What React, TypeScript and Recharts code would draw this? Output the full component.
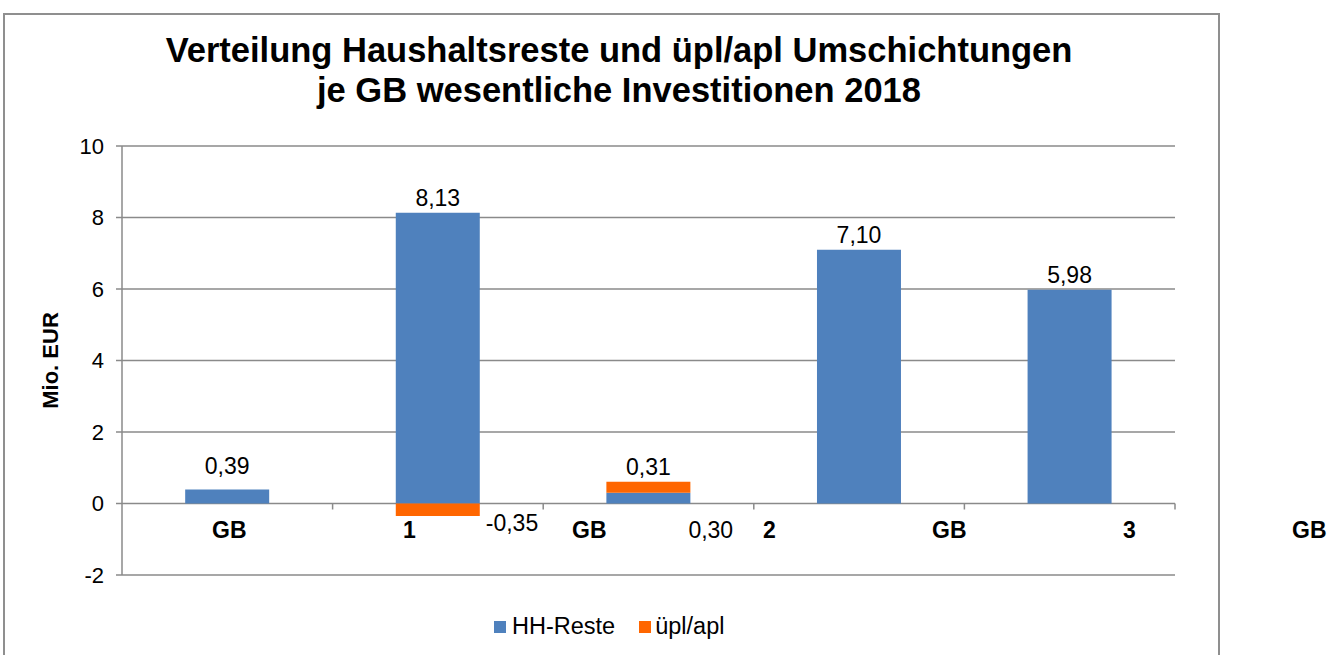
import { Bar, BarChart, CartesianGrid, Label, LabelList, Legend, XAxis, YAxis } from "recharts";

const categories = ["GB 1", "GB 2", "GB 3", "GB 4", "GB 5"];
const hhReste = [0.39, 8.13, 0.3, 7.1, 5.98];
const ueplApl: (number | null)[] = [null, -0.35, 0.31, null, null];
const axisTokens = ["GB", "1", "GB", "2", "GB", "3", "GB"];
const yTicks = [-2, 0, 2, 4, 6, 8, 10];

const data = categories.map((name, i) => ({ name, hh: hhReste[i], upl: ueplApl[i] }));

const FONT = '"Liberation Sans", Arial, sans-serif';
const GRID = "#8a8a8a";
const BLUE = "#4f81bd";
const ORANGE = "#ff6600";

const PLOT_TOP = 146;
const PLOT_BOTTOM = 575;
const PLOT_LEFT = 122;
const PLOT_RIGHT = 1175;
const ZERO_Y = PLOT_TOP + ((PLOT_BOTTOM - PLOT_TOP) * 10) / 12;
const BAND = (PLOT_RIGHT - PLOT_LEFT) / categories.length;
const TOKEN_STEP = 180;

const fmt = (v: number) => v.toFixed(2).replace(".", ",");

function XTick(props: any) {
  const { x, index } = props;
  return (
    <g>
      {index === 0 &&
        axisTokens.map((t, k) => (
          <text
            key={k}
            x={x + 2 + k * TOKEN_STEP}
            y={ZERO_Y + 34}
            textAnchor="middle"
            fontFamily={FONT}
            fontSize={23}
            fontWeight="bold"
            fill="#000"
          >
            {t}
          </text>
        ))}
      <line x1={x + BAND / 2} x2={x + BAND / 2} y1={ZERO_Y} y2={ZERO_Y + 6} stroke={GRID} strokeWidth={1.5} />
    </g>
  );
}

function HHLabel(props: any) {
  const { x, y, width, value, index } = props;
  if (value == null) return null;
  if (index === 2) {
    return (
      <text x={x + width - 2} y={ZERO_Y + 34} fontFamily={FONT} fontSize={23} fill="#000">
        {fmt(value)}
      </text>
    );
  }
  return (
    <text x={x + width / 2} y={y - (index === 0 ? 16 : 7)} textAnchor="middle" fontFamily={FONT} fontSize={23} fill="#000">
      {fmt(value)}
    </text>
  );
}

function UplLabel(props: any) {
  const { x, y, width, height, value } = props;
  if (value == null) return null;
  if (value < 0) {
    const bottom = Math.max(y, y + height);
    return (
      <text x={x + width + 6} y={bottom + 15} fontFamily={FONT} fontSize={23} fill="#000">
        {fmt(value)}
      </text>
    );
  }
  return (
    <text x={x + width / 2} y={Math.min(y, y + height) - 7} textAnchor="middle" fontFamily={FONT} fontSize={23} fill="#000">
      {fmt(value)}
    </text>
  );
}

function LegendBox(props: any) {
  const items = props.payload || [];
  return (
    <div style={{ display: "flex", alignItems: "center", fontFamily: FONT, fontSize: 23.5, color: "#000" }}>
      {items.map((it: any, i: number) => (
        <div key={i} style={{ display: "flex", alignItems: "center", marginRight: i === 0 ? 24 : 0 }}>
          <span style={{ width: 12, height: 12, background: it.color, display: "inline-block", marginRight: i === 0 ? 6 : 4 }} />
          <span>{it.value}</span>
        </div>
      ))}
    </div>
  );
}

export default function App() {
  return (
    <div style={{ position: "absolute", left: 0, top: 0, width: 1331, height: 655, overflow: "hidden", background: "#fff" }}>
      <div
        style={{
          position: "absolute",
          left: 3,
          top: 13,
          width: 1213,
          height: 700,
          border: "2px solid #8f8f8f",
        }}
      />
      <div
        style={{
          position: "absolute",
          left: 0,
          top: 30,
          width: 1238,
          textAlign: "center",
          fontFamily: FONT,
          fontWeight: "bold",
          fontSize: 34.5,
          lineHeight: "40px",
          color: "#000",
        }}
      >
        Verteilung Haushaltsreste und üpl/apl Umschichtungen
        <br />
        je GB wesentliche Investitionen 2018
      </div>
      <div style={{ position: "absolute", left: 0, top: 0 }}>
        <BarChart
          width={1331}
          height={655}
          data={data}
          margin={{ top: PLOT_TOP, right: 1331 - PLOT_RIGHT, bottom: 655 - PLOT_BOTTOM - 30, left: PLOT_LEFT - 80 }}
          stackOffset="sign"
          barCategoryGap="30%"
        >
          <CartesianGrid vertical={false} stroke={GRID} strokeWidth={1.5} />
          <XAxis dataKey="name" height={30} axisLine={false} tickLine={false} interval={0} tick={<XTick />} />
          <YAxis
            domain={[-2, 10]}
            ticks={yTicks}
            interval={0}
            width={80}
            tickSize={6}
            tickMargin={12}
            axisLine={{ stroke: GRID, strokeWidth: 1.5 }}
            tickLine={{ stroke: GRID, strokeWidth: 1.5 }}
            tick={{ fill: "#000", fontSize: 22, fontFamily: FONT }}
          >
            <Label
              position="insideLeft"
              content={(p: any) => {
                const vb = p.viewBox || {};
                const cx = (vb.x ?? 42) + 8;
                const cy = (vb.y ?? PLOT_TOP) + (vb.height ?? 429) / 2;
                return (
                  <text
                    x={cx}
                    y={cy}
                    transform={`rotate(-90 ${cx} ${cy})`}
                    textAnchor="middle"
                    dominantBaseline="central"
                    fontFamily={FONT}
                    fontSize={22}
                    fontWeight="bold"
                    fill="#000"
                  >
                    Mio. EUR
                  </text>
                );
              }}
            />
          </YAxis>
          <Legend
            verticalAlign="middle"
            align="center"
            layout="horizontal"
            content={<LegendBox />}
            wrapperStyle={{ position: "absolute", top: 613, left: 494, width: "auto" }}
          />
          <Bar dataKey="hh" name="HH-Reste" stackId="a" fill={BLUE} isAnimationActive={false}>
            <LabelList dataKey="hh" content={<HHLabel />} />
          </Bar>
          <Bar dataKey="upl" name="üpl/apl" stackId="a" fill={ORANGE} isAnimationActive={false}>
            <LabelList dataKey="upl" content={<UplLabel />} />
          </Bar>
        </BarChart>
      </div>
    </div>
  );
}
